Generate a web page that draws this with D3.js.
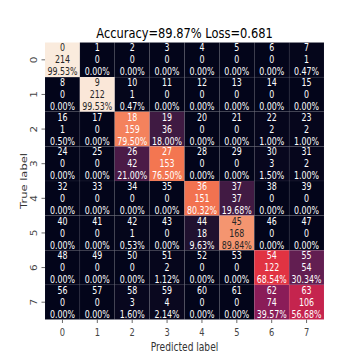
<!DOCTYPE html>
<html lang="en">
<head>
<meta charset="UTF-8">
<title>confusion matrix</title>
<script src="https://d3js.org/d3.v7.min.js"></script>
<style>
    body { margin: 0; background: #fff; }
    text { font-family: "DejaVu Sans", sans-serif; }
</style>
</head>
<body>
<script>
// class labels along both axes
var classes = ["0", "1", "2", "3", "4", "5", "6", "7"];

// counts, one array per true label (row)
var row0 = [214, 0, 0, 0, 0, 0, 0, 1];
var row1 = [0, 212, 1, 0, 0, 0, 0, 0];
var row2 = [1, 0, 159, 36, 0, 0, 2, 2];
var row3 = [0, 0, 42, 153, 0, 0, 3, 2];
var row4 = [0, 0, 0, 0, 151, 37, 0, 0];
var row5 = [0, 0, 1, 0, 18, 168, 0, 0];
var row6 = [0, 0, 0, 2, 0, 0, 122, 54];
var row7 = [0, 0, 3, 4, 0, 0, 74, 106];
var counts = [row0, row1, row2, row3, row4, row5, row6, row7];

var title = "Accuracy=89.87% Loss=0.681";

// rocket colormap stops
var rocket = ["#03051a", "#35193e", "#701f57", "#ad1759", "#e13342", "#f37651", "#f6b48f", "#faebdd"];

var W = 360, H = 359;
var margin = {top: 42.5, left: 45},
    width = 279, height = 277;
var sx = 0.79; // the picture is squeezed sideways

var svg = d3.select("body").append("svg")
    .attr("width", W)
    .attr("height", H);

var x = d3.scaleBand().domain(classes).range([margin.left, margin.left + width]);
var y = d3.scaleBand().domain(classes).range([margin.top, margin.top + height]);

var vmax = d3.max(counts, function (r) { return d3.max(r); });
var color = d3.scaleLinear()
    .domain(rocket.map(function (c, i) { return i / (rocket.length - 1); }))
    .range(rocket)
    .interpolate(d3.interpolateRgb);

function lum(c) {
    var rgb = d3.rgb(c);
    var f = function (v) {
        v = v / 255;
        return v <= 0.03928 ? v / 12.92 : Math.pow((v + 0.055) / 1.055, 2.4);
    };
    return 0.2126 * f(rgb.r) + 0.7152 * f(rgb.g) + 0.0722 * f(rgb.b);
}

// flatten cells
var cells = [];
counts.forEach(function (r, i) {
    var total = d3.sum(r);
    r.forEach(function (v, j) {
        cells.push({i: i, j: j, v: v, idx: i * classes.length + j, pct: v / total * 100});
    });
});

var g = svg.append("g");

g.selectAll("rect")
    .data(cells)
    .enter().append("rect")
    .attr("x", function (d) { return x(classes[d.j]); })
    .attr("y", function (d) { return y(classes[d.i]); })
    .attr("width", x.bandwidth())
    .attr("height", y.bandwidth())
    .attr("fill", function (d) { return color(d.v / vmax); })
    .attr("stroke", "rgba(255,255,255,0.1)")
    .attr("stroke-width", 0.5);

var fs = 10, lh = 12;
var labels = g.selectAll("g.cell")
    .data(cells)
    .enter().append("g")
    .attr("class", "cell")
    .attr("transform", function (d) {
        return "translate(" + (x(classes[d.j]) + x.bandwidth() / 2) + "," +
            (y(classes[d.i]) + y.bandwidth() / 2) + ") scale(" + sx + ",1)";
    })
    .style("fill", function (d) { return lum(color(d.v / vmax)) > 0.408 ? "#262626" : "#ffffff"; })
    .style("font-size", fs + "px")
    .attr("text-anchor", "middle");

labels.append("text").attr("y", -lh + 3.6).text(function (d) { return d.idx; });
labels.append("text").attr("y", 3.6).text(function (d) { return d.v; });
labels.append("text").attr("y", lh + 3.6).text(function (d) { return d.pct.toFixed(2) + "%"; });

// axes
var xAxis = svg.append("g")
    .attr("transform", "translate(0," + (margin.top + height) + ")")
    .call(d3.axisBottom(x).tickSize(3.5).tickPadding(2));
var yAxis = svg.append("g")
    .attr("transform", "translate(" + margin.left + ",0)")
    .call(d3.axisLeft(y).tickSize(3.5));

[xAxis, yAxis].forEach(function (a) {
    a.select(".domain").remove();
    a.selectAll(".tick line").attr("stroke", "#444").attr("stroke-width", 0.8);
    a.selectAll(".tick text").attr("fill", "#444").style("font-size", "10.5px")
        .style("font-family", "DejaVu Sans, sans-serif");
});

xAxis.selectAll(".tick text")
    .attr("y", null).attr("dy", null)
    .attr("transform", "translate(0,16) scale(" + sx + ",1)");

yAxis.selectAll(".tick text")
    .attr("x", null).attr("dy", null)
    .attr("text-anchor", "middle")
    .attr("transform", "translate(-8.5,0) scale(" + sx + ",1) rotate(-90)");

// axis titles
svg.append("text")
    .attr("transform", "translate(" + (margin.left + width / 2) + ",351) scale(" + sx + ",1)")
    .attr("text-anchor", "middle")
    .style("font-size", "11.5px")
    .attr("fill", "#333")
    .text("Predicted label");

svg.append("text")
    .attr("transform", "translate(27," + (margin.top + height / 2) + ") scale(" + sx + ",1) rotate(-90)")
    .attr("text-anchor", "middle")
    .style("font-size", "11.5px")
    .attr("fill", "#333")
    .text("True label");

svg.append("text")
    .attr("transform", "translate(" + (margin.left + width / 2) + ",37.5) scale(" + sx + ",1)")
    .attr("text-anchor", "middle")
    .style("font-size", "14.5px")
    .attr("fill", "#000")
    .text(title);
</script>
</body>
</html>
